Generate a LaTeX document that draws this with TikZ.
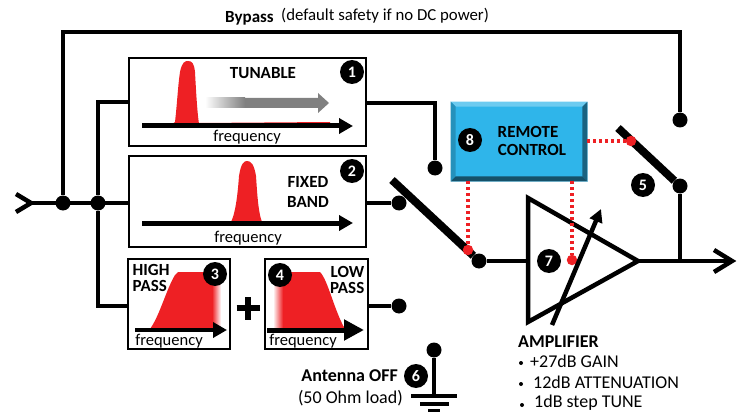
\documentclass[tikz,border=0pt]{standalone}
\usepackage{fontspec}
\setmainfont{Carlito}
\usetikzlibrary{arrows.meta}
\definecolor{filterred}{HTML}{EE2024}
\definecolor{ctrlblue}{HTML}{2FB5EA}

\begin{document}
\begin{tikzpicture}[x = 1pt, y = -1pt, line join = miter,
    wire/.style = {line width = 4.5pt},
    blade/.style = {line width = 8pt},
    dot/.style = {circle, fill = black, inner sep = 0pt, minimum size = 15pt},
    reddot/.style = {circle, fill = filterred, inner sep = 0pt, minimum size = 10.5pt},
    badge/.style = {circle, fill = black, text = white, inner sep = 0pt, minimum size = 24pt,
      font = \fontsize{16}{16}\selectfont\bfseries},
    panel/.style = {draw, line width = 1.5pt, inner sep = 0pt},
    ctrl/.style = {filterred, line width = 3.5pt, dash pattern = on 3pt off 3pt},
    axisline/.style = {-{Triangle[length = 14pt, width = 15pt]}, line width = 5pt},
    label/.style = {font = \fontsize{16.5}{16.5}\selectfont, inner sep = 0pt},
    biglabel/.style = {font = \fontsize{18}{18}\selectfont, inner sep = 0pt},
    title/.style = {font = \fontsize{17}{17}\selectfont\bfseries, inner sep = 0pt, align = center},
    bigtitle/.style = {font = \fontsize{18}{18}\selectfont\bfseries, inner sep = 0pt},
    pip/.style = {circle, fill = black, inner sep = 0pt, minimum size = 4pt}]
  \useasboundingbox (0, 0) rectangle (740, 412);

  \node (tunable) [panel, minimum width = 237pt, minimum height = 88pt] at (247.5, 102) {};
  \node (fixed) [panel, minimum width = 237pt, minimum height = 91pt] at (247.5, 201.5) {};
  \node (highpass) [panel, minimum width = 102pt, minimum height = 90pt] at (179, 304) {};
  \node (lowpass) [panel, minimum width = 103pt, minimum height = 90pt] at (316.5, 304) {};

  \begin{scope}
    \fill[filterred] (172, 124) -- (175, 122) .. controls (177, 105) and (178, 85) .. (180, 72)
      .. controls (182, 62) and (185, 61) .. (188, 61)
      .. controls (192, 61) and (194, 63) .. (195, 72)
      .. controls (196, 90) and (197, 110) .. (199, 124) -- cycle;
    \fill[filterred] (199, 123) -- (330, 122) -- (330, 126) -- (199, 126) -- cycle;
    \shade[left color = white, right color = gray] (205, 98) rectangle (245, 108);
    \fill[gray] (245, 98) -- (318, 98) -- (318, 93) -- (329, 103) -- (318, 113)
      -- (318, 108) -- (245, 108) -- cycle;
    \draw[axisline] (142, 126) -- (353, 126);
    \node (tunetext) [title] at (263, 73) {TUNABLE};
    \node (tunefreq) [label] at (247, 137) {frequency};
    \node (one) [badge] at (352, 72) {1};
  \end{scope}

  \begin{scope}
    \fill[filterred] (231, 222) .. controls (236, 212) and (238, 190) .. (239, 176)
      .. controls (241, 163) and (244, 161) .. (247, 161)
      .. controls (251, 161) and (254, 164) .. (256, 176)
      .. controls (257, 190) and (258, 212) .. (262, 222) -- cycle;
    \draw[axisline] (142, 223) -- (353, 223);
    \node (fixedtext) [title] at (308, 192) {FIXED\\[3pt]BAND};
    \node (fixedfreq) [label] at (248, 238) {frequency};
    \node (two) [badge] at (352, 171) {2};
  \end{scope}

  \begin{scope}
    \begin{scope}
      \clip (150, 329) .. controls (160, 315) and (166, 290) .. (175, 275)
        -- (178, 272) -- (215, 272) -- (221, 276) -- (221, 329) -- cycle;
      \fill[filterred] (145, 265) rectangle (212, 335);
      \shade[left color = filterred, right color = white] (212, 265) rectangle (221, 335);
    \end{scope}
    \draw[-{Triangle[length = 14pt, width = 15pt]}, line width = 4pt] (135, 330) -- (227, 330);
    \node (hightext) [title, align = left, anchor = west] at (132.5, 278) {HIGH\\[-1pt]PASS};
    \node (highfreq) [label] at (169, 341) {frequency};
    \node (three) [badge] at (215, 274) {3};
  \end{scope}

  \node (plus) [inner sep = 0pt, minimum size = 0pt] at (248, 308) {};
  \draw[line width = 6pt] ([xshift = -11.5pt] plus.center) -- ([xshift = 11.5pt] plus.center);
  \draw[line width = 6pt] ([yshift = -11.5pt] plus.center) -- ([yshift = 11.5pt] plus.center);

  \begin{scope}
    \begin{scope}
      \clip (273, 272) -- (320, 272) .. controls (328, 280) and (334, 310) .. (345, 329)
        -- (273, 329) -- cycle;
      \fill[filterred] (283, 265) rectangle (350, 335);
      \shade[left color = white, right color = filterred] (273, 265) rectangle (283, 335);
    \end{scope}
    \draw[-{Triangle[length = 20pt, width = 20pt]}, line width = 5pt] (267, 330) -- (364, 330);
    \node (lowtext) [title, align = right, anchor = east] at (364.5, 280) {LOW\\[-1pt]PASS};
    \node (lowfreq) [label] at (303, 341) {frequency};
    \node (four) [badge] at (280, 275) {4};
  \end{scope}

  \coordinate (start) at (31, 203);
  \node (rootbypass) [dot] at (63, 203) {};
  \node (rootfilter) [dot] at (98, 203) {};
  \node (tuneout) [dot] at (435, 168) {};
  \node (fixedout) [dot] at (399, 203) {};
  \node (passout) [dot] at (399, 306) {};
  \node (selin) [dot] at (479, 261) {};
  \node (bypassin) [dot] at (680, 120) {};
  \node (ampout) [dot] at (680, 186) {};
  \coordinate (finish) at (732, 261);
  \coordinate (amptip) at (638, 261);
  \coordinate (bypasstop) at (63, 32);
  \coordinate (bypassend) at (680, 32);
  \coordinate (tunecorner) at (435, 103);

  \draw[wire] (16, 194) -- (start) -- (16, 212);
  \draw[wire] (start) -- (fixed.west |- start);
  \draw[wire] (rootbypass) -- (bypasstop) -- (bypassend) -- (bypassin);
  \draw[wire] (rootfilter) |- (tunable.west);
  \draw[wire] (rootfilter) |- (highpass.west |- passout);
  \draw[wire] (tunable.east |- tunecorner) -- (tunecorner) -- (tuneout);
  \draw[wire] (fixed.east |- fixedout) -- (fixedout);
  \draw[wire] (lowpass.east |- passout) -- (passout);

  \draw[blade] (392, 180) -- (selin);
  \draw[blade] (618, 128) -- (ampout);

  \node (remote) [inner sep = 0pt, minimum width = 136pt, minimum height = 79pt, fill = ctrlblue,
    draw = ctrlblue!45, line width = 0.8pt] at (519, 141.5) {};
  \fill[ctrlblue!70!white] (remote.north west) -- (remote.north east) -- ([shift = {(-5pt, -5pt)}] remote.north east)
    -- ([shift = {(5pt, -5pt)}] remote.north west) -- cycle;
  \fill[ctrlblue!80!black] (remote.north west) -- (remote.south west) -- ([shift = {(5pt, 5pt)}] remote.south west)
    -- ([shift = {(5pt, -5pt)}] remote.north west) -- cycle;
  \fill[ctrlblue!55!black] (remote.north east) -- (remote.south east) -- ([shift = {(-5pt, 5pt)}] remote.south east)
    -- ([shift = {(-5pt, -5pt)}] remote.north east) -- cycle;
  \fill[ctrlblue!45!black] (remote.south west) -- (remote.south east) -- ([shift = {(-5pt, 5pt)}] remote.south east)
    -- ([shift = {(5pt, 5pt)}] remote.south west) -- cycle;
  \node (remotetop) [title] at (528, 132) {REMOTE};
  \node (remotelow) [title] at (532, 150) {CONTROL};
  \node (eight) [badge] at (470, 140) {8};

  \coordinate (ampback) at (528, 261);
  \draw[line width = 4.5pt] (528, 198) -- (528, 322) -- (amptip) -- cycle;
  \draw[wire] (selin) -- (ampback);
  \draw[wire] (amptip) -- (finish);
  \draw[wire] (ampout) -- (ampout |- finish);
  \draw[wire] (714, 250) -- (finish) -- (714, 272);

  \node (seltap) [reddot] at (468, 250) {};
  \node (gaintap) [reddot] at (572, 260) {};
  \node (bypasstap) [reddot] at (631, 141) {};
  \draw[ctrl] (remote.south -| seltap) -- (seltap);
  \draw[ctrl] (remote.south -| gaintap) -- (gaintap);
  \draw[ctrl] (remote.east |- bypasstap) -- (bypasstap);
  \draw[-{Triangle[length = 13pt, width = 13pt]}, line width = 4.5pt] (552, 325) -- (601, 209);

  \node (five) [badge] at (643, 185) {5};
  \node (seven) [badge] at (549, 261) {7};

  \node (bypasstext) [title, anchor = west] at (225, 18) {Bypass};
  \node (bypassnote) [label, anchor = west, font = \fontsize{16.8}{17}\selectfont] at (281, 16) {(default safety if no DC power)};

  \node (offin) [dot] at (434, 350) {};
  \coordinate (earth) at (434, 396);
  \draw[wire] (offin) -- (earth);
  \draw[line width = 4.5pt] (411, 396) -- (457, 396);
  \draw[line width = 4.5pt] (420, 404) -- (449, 404);
  \draw[line width = 4.5pt] (428, 411) -- (440, 411);
  \node (six) [badge] at (416, 376) {6};
  \node (offtext) [bigtitle, anchor = east] at (398, 376) {Antenna OFF};
  \node (offnote) [biglabel, anchor = east] at (403, 398) {(50 Ohm load)};

  \node (amptext) [bigtitle, anchor = west] at (518, 342) {AMPLIFIER};
  \node (gain) [biglabel, anchor = west] at (530, 361) {+27dB GAIN};
  \node (atten) [biglabel, anchor = west] at (533, 382) {12dB ATTENUATION};
  \node (tune) [biglabel, anchor = west] at (534, 403) {1dB step TUNE};
  \node (gainpip) [pip] at (521, 363) {};
  \node (attenpip) [pip] at (521, 384) {};
  \node (tunepip) [pip] at (522, 405) {};
\end{tikzpicture}
\end{document}
